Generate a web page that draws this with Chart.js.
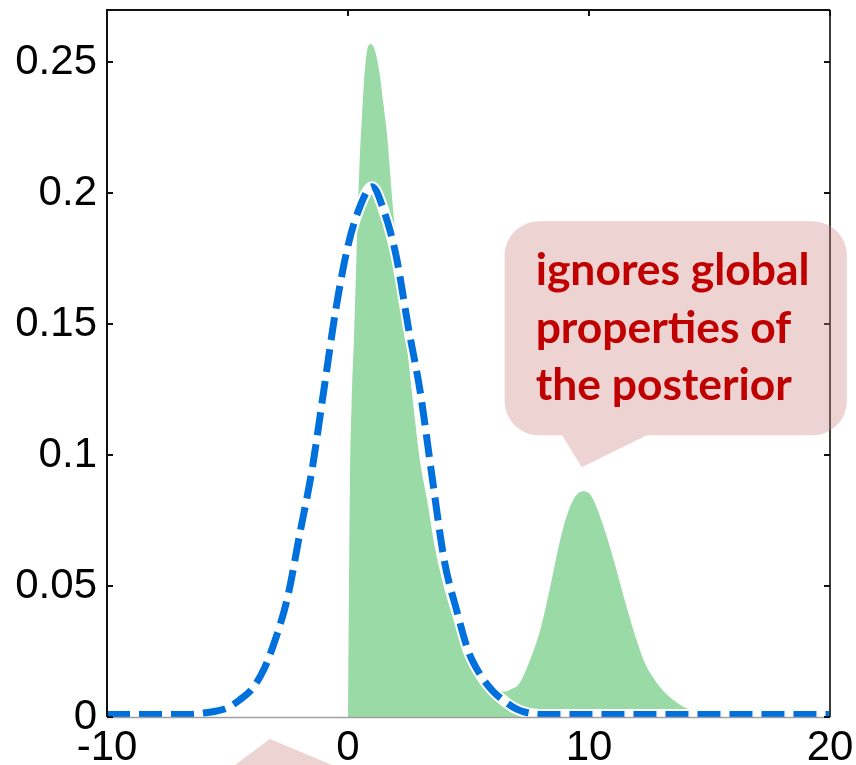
<!DOCTYPE html>
<html>
<head>
<meta charset="utf-8">
<script src="https://cdn.jsdelivr.net/npm/chart.js@4.4.0/dist/chart.umd.min.js"></script>
<style>
  html, body { margin: 0; padding: 0; background: #fff; overflow: hidden; }
  #wrap { width: 856px; height: 765px; }
</style>
</head>
<body>
<div id="wrap"><canvas id="chart" width="856" height="765"></canvas></div>
<script>
// axis ticks
const xTicks = [-10, 0, 10, 20];
const xTickLabels = ['-10', '0', '10', '20'];
const yTicks = [0, 0.05, 0.1, 0.15, 0.2, 0.25];
const yTickLabels = ['0', '0.05', '0.1', '0.15', '0.2', '0.25'];

// gaussian approximation (blue dashed)
const approxX = [-10, -8, -6.5, -6, -5.5, -5, -4.5, -4, -3.5, -3, -2.5, -2, -1.5, -1, -0.5, 0, 0.5, 1, 1.5, 2, 2.5, 3, 3.5, 4, 4.5, 5, 5.5, 6, 6.5, 7, 7.5, 8, 10, 14, 18, 20];
const approxY = [0.001, 0.001, 0.001, 0.0015, 0.0022, 0.0035, 0.0065, 0.0105, 0.018, 0.030, 0.046, 0.070, 0.094, 0.125, 0.156, 0.180, 0.195, 0.2025, 0.193, 0.176, 0.149, 0.124, 0.091, 0.0595, 0.041, 0.025, 0.016, 0.010, 0.006, 0.003, 0.0015, 0.001, 0.001, 0.001, 0.001, 0.001];

// true posterior (green area)
const postX = [0, 0.08, 0.15, 0.25, 0.35, 0.47, 0.57, 0.66, 0.77, 0.94, 1.1, 1.29, 1.47, 1.63, 1.85, 2.1, 2.4, 2.7, 3.0, 3.3, 3.6, 4.0, 4.4, 4.8, 5.3, 5.8, 6.2, 6.5, 6.8, 7.1, 7.5, 8.0, 8.4, 8.8, 9.2, 9.5, 9.76, 10.05, 10.3, 10.7, 11.1, 11.5, 11.9, 12.3, 12.7, 13.1, 13.5, 14.05, 14.6, 15.2, 17, 19.5, 20];
const postY = [0, 0.09, 0.12, 0.145, 0.175, 0.209, 0.228, 0.242, 0.2533, 0.257, 0.255, 0.247, 0.234, 0.2215, 0.196, 0.171, 0.146, 0.120, 0.097, 0.082, 0.065, 0.049, 0.037, 0.027, 0.0165, 0.012, 0.010, 0.0097, 0.0108, 0.0126, 0.0205, 0.034, 0.050, 0.0675, 0.0800, 0.0850, 0.0862, 0.0850, 0.0805, 0.0700, 0.0575, 0.0440, 0.0315, 0.0210, 0.0145, 0.0098, 0.0065, 0.0033, 0.0018, 0.0009, 0.0006, 0.0005, 0.0004];

const calloutLines = ['ignores global', 'properties of', 'the posterior'];

const toPoints = (xs, ys) => xs.map((v, i) => ({ x: v, y: ys[i] }));

const tickFont = { family: '"Liberation Sans", Arial, sans-serif', size: 42 };

// box, ticks pointing inward
const framePlugin = {
  id: 'frame',
  afterDatasetsDraw(chart) {
    const { ctx, chartArea: a, scales: { x, y } } = chart;
    ctx.save();
    ctx.lineCap = 'butt';
    ctx.strokeStyle = '#a0a0a0';
    ctx.lineWidth = 1.5;
    ctx.beginPath();
    ctx.moveTo(a.left, a.bottom + 0.5);
    ctx.lineTo(a.right, a.bottom + 0.5);
    ctx.stroke();

    ctx.strokeStyle = '#111';
    ctx.lineWidth = 2;
    ctx.beginPath();
    ctx.moveTo(a.left, a.bottom);
    ctx.lineTo(a.left, a.top);
    ctx.lineTo(a.right, a.top);
    ctx.stroke();
    ctx.strokeStyle = '#3c3c3c';
    ctx.beginPath();
    ctx.moveTo(a.right, a.top);
    ctx.lineTo(a.right, a.bottom);
    ctx.stroke();

    ctx.strokeStyle = '#111';
    ctx.lineWidth = 2;
    yTicks.forEach(v => {
      const py = Math.round(y.getPixelForValue(v));
      ctx.beginPath();
      ctx.moveTo(a.left, py); ctx.lineTo(a.left + 6, py);
      ctx.moveTo(a.right, py); ctx.lineTo(a.right - 6, py);
      ctx.stroke();
    });
    xTicks.forEach(v => {
      const px = Math.round(x.getPixelForValue(v));
      ctx.beginPath();
      ctx.moveTo(px, a.top); ctx.lineTo(px, a.top + 6);
      ctx.stroke();
    });
    ctx.restore();
  }
};

// speech bubble annotation
const calloutPlugin = {
  id: 'callout',
  afterDraw(chart) {
    const { ctx, scales: { x, y } } = chart;
    const X = v => x.getPixelForValue(v);
    const Y = v => y.getPixelForValue(v);
    ctx.save();
    ctx.fillStyle = 'rgba(205, 130, 130, 0.35)';

    // bubble
    const l = X(6.5), r = X(20.7), t = Y(0.1893), b = Y(0.1076), rad = 34;
    ctx.beginPath();
    ctx.moveTo(l + rad, t);
    ctx.lineTo(r - rad, t);
    ctx.arcTo(r, t, r, t + rad, rad);
    ctx.lineTo(r, b - rad);
    ctx.arcTo(r, b, r - rad, b, rad);
    ctx.lineTo(X(12.4), b);
    ctx.lineTo(X(9.7), Y(0.0954));
    ctx.lineTo(X(8.88), b);
    ctx.lineTo(l + rad, b);
    ctx.arcTo(l, b, l, b - rad, rad);
    ctx.lineTo(l, t + rad);
    ctx.arcTo(l, t, l + rad, t, rad);
    ctx.closePath();
    ctx.fill();

    // pointer of a second bubble below the plot
    ctx.beginPath();
    ctx.moveTo(X(-3.24), Y(-0.0084));
    ctx.lineTo(X(-0.66), Y(-0.0183));
    ctx.lineTo(X(-4.69), Y(-0.0183));
    ctx.closePath();
    ctx.fill();

    // text
    ctx.fillStyle = '#C00000';
    ctx.font = 'bold 100px Lato, "Open Sans", sans-serif';
    const w = ctx.measureText(calloutLines[0]).width;
    const size = 100 * 274 / w;
    ctx.font = `bold ${size}px Lato, "Open Sans", sans-serif`;
    ctx.textAlign = 'left';
    ctx.textBaseline = 'alphabetic';
    calloutLines.forEach((s, i) => {
      ctx.fillText(s, l + 31, t + 64 + i * 57.5);
    });
    ctx.restore();
  }
};

new Chart(document.getElementById('chart'), {
  type: 'line',
  data: {
    datasets: [
      {
        label: 'posterior',
        data: toPoints(postX, postY),
        backgroundColor: '#9ADAA6',
        borderWidth: 0,
        fill: 'origin',
        pointRadius: 0,
        cubicInterpolationMode: 'monotone',
        order: 3
      },
      {
        label: 'halo',
        data: toPoints(approxX, approxY),
        borderColor: '#ffffff',
        borderWidth: 11,
        fill: false,
        pointRadius: 0,
        cubicInterpolationMode: 'monotone',
        order: 2
      },
      {
        label: 'approximation',
        data: toPoints(approxX, approxY),
        borderColor: '#0070DD',
        borderWidth: 7,
        borderDash: [23, 9],
        borderCapStyle: 'butt',
        fill: false,
        pointRadius: 0,
        cubicInterpolationMode: 'monotone',
        order: 1
      }
    ]
  },
  options: {
    responsive: false,
    animation: false,
    layout: { padding: { top: 10, right: 26, left: 0, bottom: 0 } },
    plugins: { legend: { display: false }, tooltip: { enabled: false } },
    scales: {
      x: {
        type: 'linear',
        min: -10,
        max: 20,
        grid: { display: false, drawTicks: false },
        border: { display: false },
        afterBuildTicks: s => { s.ticks = xTicks.map(v => ({ value: v })); },
        afterFit: s => { s.height = 48; s.paddingLeft = 0; s.paddingRight = 0; },
        ticks: {
          padding: 6,
          maxRotation: 0,
          color: '#000',
          font: tickFont,
          callback: v => xTickLabels[xTicks.indexOf(v)]
        }
      },
      y: {
        min: 0,
        max: 0.27,
        grid: { display: false, drawTicks: false },
        border: { display: false },
        afterBuildTicks: s => { s.ticks = yTicks.map(v => ({ value: v })); },
        afterFit: s => { s.width = 107; s.paddingTop = 0; s.paddingBottom = 0; },
        ticks: {
          padding: 10,
          color: '#000',
          font: tickFont,
          callback: v => yTickLabels[yTicks.indexOf(v)]
        }
      }
    }
  },
  plugins: [framePlugin, calloutPlugin]
});
</script>
</body>
</html>
